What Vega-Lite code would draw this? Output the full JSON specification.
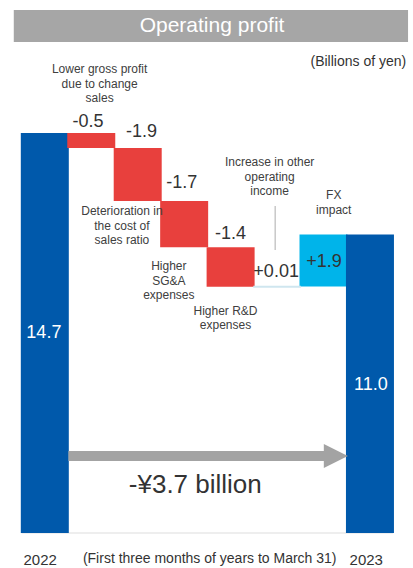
{
  "$schema": "https://vega.github.io/schema/vega-lite/v6.json",
  "width": 413,
  "height": 568,
  "autosize": "none",
  "padding": 0,
  "background": "#ffffff",
  "config": {
    "view": {"stroke": null},
    "axis": {"disable": true},
    "text": {"font": "Liberation Sans"}
  },
  "datasets": {
    "titlebar": [{"c0": -0.668, "c1": 7.82, "v0": 18.04, "v1": 19.22, "text": "Operating profit", "c": 3.6, "v": 18.63}],
    "baseline": [{"c0": -0.5, "c1": 7.5, "v": 0}],
    "bars": [
      {"item": "2022", "c": 0, "start": 0, "end": 14.7, "kind": "total"},
      {"item": "Lower gross profit due to change sales", "c": 1, "start": 14.7, "end": 14.15, "kind": "decrease"},
      {"item": "Deterioration in the cost of sales ratio", "c": 2, "start": 14.15, "end": 12.2, "kind": "decrease"},
      {"item": "Higher SG&A expenses", "c": 3, "start": 12.2, "end": 10.5, "kind": "decrease"},
      {"item": "Higher R&D expenses", "c": 4, "start": 10.5, "end": 9.05, "kind": "decrease"},
      {"item": "FX impact", "c": 6, "start": 9.06, "end": 10.97, "kind": "increase"},
      {"item": "2023", "c": 7, "start": 0, "end": 10.97, "kind": "total"}
    ],
    "flat": [{"item": "Increase in other operating income", "c": 5, "v": 9.05}],
    "leader": [{"c": 4.96, "v0": 12.02, "v1": 10.4}],
    "arrow": [{"c0": 0.508, "c1": 6.07, "v": 2.83, "ch": 6.265}],
    "values_dark": [
      {"text": "-0.5", "c": 0.93, "v": 15.1},
      {"text": "-1.9", "c": 2.08, "v": 14.74},
      {"text": "-1.7", "c": 2.95, "v": 12.86},
      {"text": "-1.4", "c": 4.0, "v": 10.99},
      {"text": "+0.01", "c": 4.98, "v": 9.59},
      {"text": "+1.9", "c": 6.01, "v": 9.96}
    ],
    "values_light": [
      {"text": "14.7", "c": -0.02, "v": 7.35},
      {"text": "11.0", "c": 7.02, "v": 5.44}
    ],
    "notes": [
      {"text": "Lower gross profit\ndue to change\nsales", "c": 1.18, "v": 17.22},
      {"text": "Deterioration in\nthe cost of\nsales ratio", "c": 1.66, "v": 12.0},
      {"text": "Higher\nSG&A\nexpenses", "c": 2.67, "v": 9.98},
      {"text": "Higher R&D\nexpenses", "c": 3.89, "v": 8.36},
      {"text": "Increase in other\noperating\nincome", "c": 4.84, "v": 13.8},
      {"text": "FX\nimpact", "c": 6.22, "v": 12.59}
    ],
    "unit": [{"text": "(Billions of yen)", "c": 6.75, "v": 17.3}],
    "change": [{"text": "-¥3.7 billion", "c": 3.24, "v": 1.76}],
    "years": [
      {"text": "2022", "c": -0.1, "v": -0.99},
      {"text": "2023", "c": 6.92, "v": -0.99}
    ],
    "foot": [{"text": "(First three months of years to March 31)", "c": 3.55, "v": -0.97}]
  },
  "layer": [
    {
      "data": {"name": "titlebar"},
      "mark": {"type": "rect", "color": "#a6a6a6"},
      "encoding": {
        "x": {"field": "c0", "type": "quantitative", "scale": {"domain": [-0.857, 7.819], "zero": false, "nice": false}},
        "x2": {"field": "c1"},
        "y": {"field": "v0", "type": "quantitative", "scale": {"domain": [-1.286, 19.588], "zero": false, "nice": false}},
        "y2": {"field": "v1"}
      }
    },
    {
      "data": {"name": "titlebar"},
      "mark": {"type": "text", "color": "#ffffff", "fontSize": 21, "baseline": "middle", "align": "center"},
      "encoding": {
        "x": {"field": "c", "type": "quantitative"},
        "y": {"field": "v", "type": "quantitative"},
        "text": {"field": "text"}
      }
    },
    {
      "data": {"name": "baseline"},
      "mark": {"type": "rule", "color": "#dddddd", "strokeWidth": 1},
      "encoding": {
        "x": {"field": "c0", "type": "quantitative"},
        "x2": {"field": "c1"},
        "y": {"field": "v", "type": "quantitative"}
      }
    },
    {
      "data": {"name": "bars"},
      "mark": {"type": "bar", "width": 48},
      "encoding": {
        "x": {"field": "c", "type": "quantitative"},
        "y": {"field": "start", "type": "quantitative"},
        "y2": {"field": "end"},
        "color": {"field": "kind", "type": "nominal", "legend": null,
          "scale": {"domain": ["total", "decrease", "increase"], "range": ["#0059ab", "#e8403d", "#00b4ea"]}}
      }
    },
    {
      "data": {"name": "flat"},
      "mark": {"type": "tick", "orient": "horizontal", "size": 47.6, "thickness": 2, "color": "#cfe6ef", "opacity": 1},
      "encoding": {
        "x": {"field": "c", "type": "quantitative"},
        "y": {"field": "v", "type": "quantitative"}
      }
    },
    {
      "data": {"name": "leader"},
      "mark": {"type": "rule", "color": "#c8c8c8", "strokeWidth": 1.5},
      "encoding": {
        "x": {"field": "c", "type": "quantitative"},
        "y": {"field": "v0", "type": "quantitative"},
        "y2": {"field": "v1"}
      }
    },
    {
      "data": {"name": "arrow"},
      "mark": {"type": "rule", "color": "#a3a3a3", "strokeWidth": 10},
      "encoding": {
        "x": {"field": "c0", "type": "quantitative"},
        "x2": {"field": "c1"},
        "y": {"field": "v", "type": "quantitative"}
      }
    },
    {
      "data": {"name": "arrow"},
      "mark": {"type": "point", "shape": "M -1 -1 L 1 0 L -1 1 Z", "size": 576, "filled": true, "color": "#a3a3a3", "opacity": 1},
      "encoding": {
        "x": {"field": "ch", "type": "quantitative"},
        "y": {"field": "v", "type": "quantitative"}
      }
    },
    {
      "data": {"name": "values_dark"},
      "mark": {"type": "text", "fontSize": 18, "baseline": "middle", "align": "center", "color": "#333333"},
      "encoding": {
        "x": {"field": "c", "type": "quantitative"},
        "y": {"field": "v", "type": "quantitative"},
        "text": {"field": "text"}
      }
    },
    {
      "data": {"name": "values_light"},
      "mark": {"type": "text", "fontSize": 18, "baseline": "middle", "align": "center", "color": "#ffffff"},
      "encoding": {
        "x": {"field": "c", "type": "quantitative"},
        "y": {"field": "v", "type": "quantitative"},
        "text": {"field": "text"}
      }
    },
    {
      "data": {"name": "notes"},
      "mark": {"type": "text", "fontSize": 12, "baseline": "top", "align": "center", "lineBreak": "\n", "lineHeight": 14.5, "color": "#404040"},
      "encoding": {
        "x": {"field": "c", "type": "quantitative"},
        "y": {"field": "v", "type": "quantitative"},
        "text": {"field": "text"}
      }
    },
    {
      "data": {"name": "unit"},
      "mark": {"type": "text", "fontSize": 14, "baseline": "middle", "align": "center", "color": "#333333"},
      "encoding": {
        "x": {"field": "c", "type": "quantitative"},
        "y": {"field": "v", "type": "quantitative"},
        "text": {"field": "text"}
      }
    },
    {
      "data": {"name": "change"},
      "mark": {"type": "text", "fontSize": 26, "baseline": "middle", "align": "center", "color": "#333333"},
      "encoding": {
        "x": {"field": "c", "type": "quantitative"},
        "y": {"field": "v", "type": "quantitative"},
        "text": {"field": "text"}
      }
    },
    {
      "data": {"name": "years"},
      "mark": {"type": "text", "fontSize": 15, "baseline": "middle", "align": "center", "color": "#333333"},
      "encoding": {
        "x": {"field": "c", "type": "quantitative"},
        "y": {"field": "v", "type": "quantitative"},
        "text": {"field": "text"}
      }
    },
    {
      "data": {"name": "foot"},
      "mark": {"type": "text", "fontSize": 14, "baseline": "middle", "align": "center", "color": "#333333"},
      "encoding": {
        "x": {"field": "c", "type": "quantitative"},
        "y": {"field": "v", "type": "quantitative"},
        "text": {"field": "text"}
      }
    }
  ]
}
